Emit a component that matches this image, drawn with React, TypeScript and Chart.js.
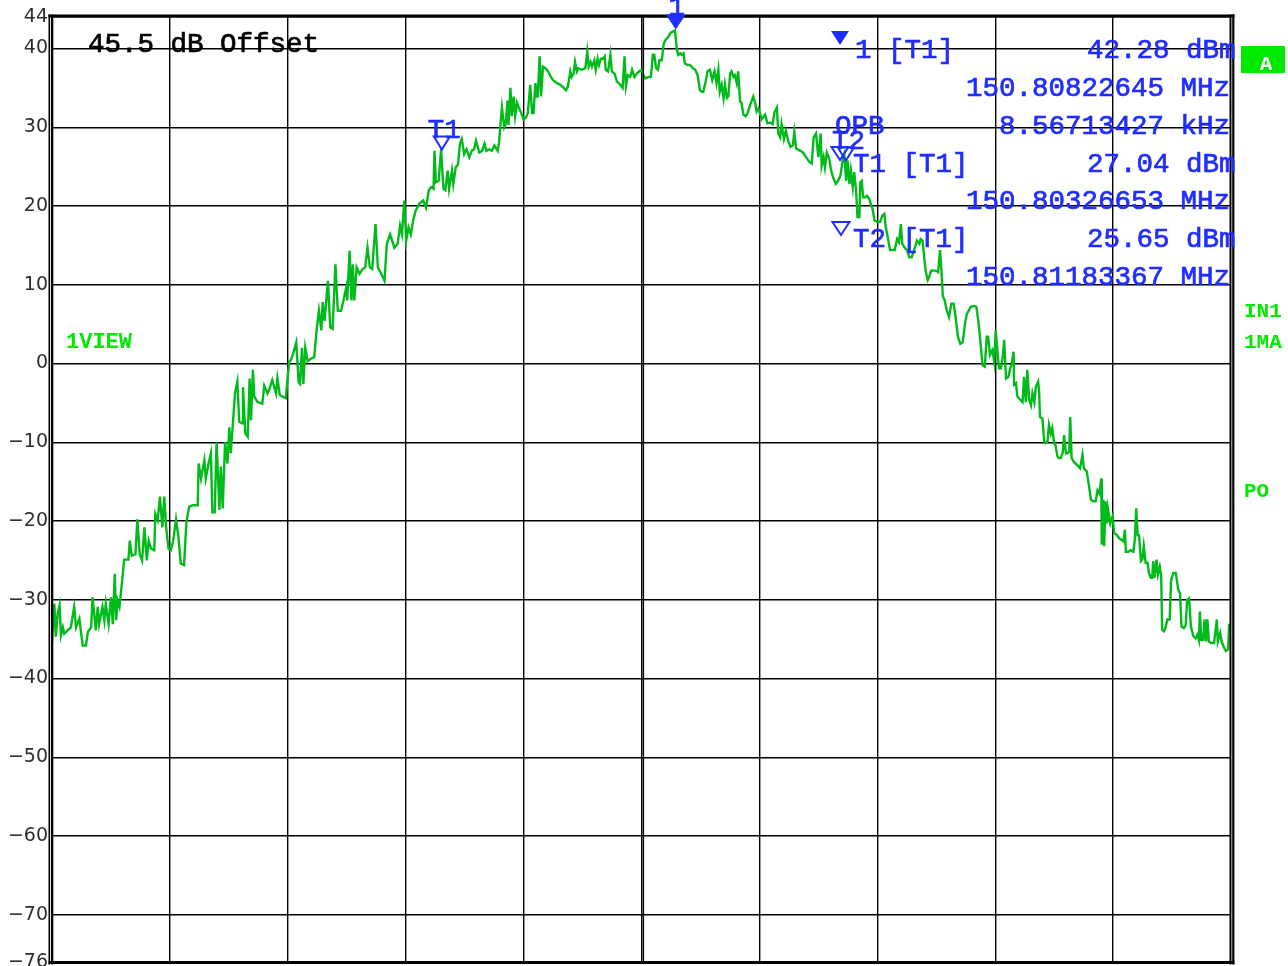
import React, { useEffect, useRef } from "react";
import { Chart, registerables } from "chart.js";

Chart.register(...registerables);

// ---------- data ----------
// Frequency axis: offset from centre 150.8075 MHz, in kHz (span 25 kHz)
const xStartKHz = -12.5;
const xStopKHz = 12.5;
const xGridKHz = [-12.5, -10, -7.5, -5, -2.5, 0, 2.5, 5, 7.5, 10, 12.5];
const yTicks = [44, 40, 30, 20, 10, 0, -10, -20, -30, -40, -50, -60, -70, -76];
const yMin = -76;
const yMax = 44;

const traceLowerSkirt: [number, number][] = [
  [-12.5, -35.4], [-12.45, -30.5], [-12.42, -34.7], [-12.38, -31.8], [-12.34, -30.7], [-12.31, -34.5], [-12.27, -33.5], [-12.24, -34.3],
  [-12.17, -33.9], [-12.1, -33.5], [-12.03, -30.9], [-11.99, -33.5], [-11.92, -32.4], [-11.85, -35.8], [-11.78, -35.8], [-11.74, -34.1],
  [-11.67, -33.5], [-11.64, -29.7], [-11.57, -33.9], [-11.53, -30.9], [-11.5, -33.1], [-11.43, -30.9], [-11.39, -32.6], [-11.36, -30.5],
  [-11.3, -33.1], [-11.25, -29.7], [-11.21, -33.1], [-11.17, -26.7], [-11.14, -32.6], [-11.11, -30.1], [-11.07, -30.9], [-11.02, -28.0],
  [-10.97, -24.9], [-10.88, -24.9], [-10.85, -22.5], [-10.81, -24.4], [-10.73, -24.2], [-10.69, -19.8], [-10.64, -24.2], [-10.59, -25.0],
  [-10.54, -20.8], [-10.49, -25.0], [-10.45, -22.5], [-10.4, -23.5], [-10.33, -23.7], [-10.31, -19.1], [-10.26, -19.9], [-10.21, -16.9],
  [-10.16, -20.8], [-10.12, -16.9], [-10.08, -20.8], [-10.03, -23.5], [-9.98, -23.7], [-9.93, -22.5], [-9.87, -19.8], [-9.82, -22.0],
  [-9.77, -25.4], [-9.7, -25.6], [-9.65, -20.1], [-9.59, -18.2], [-9.52, -18.0], [-9.41, -18.0], [-9.39, -12.7], [-9.34, -14.6],
  [-9.27, -12.3], [-9.24, -14.6], [-9.18, -12.7], [-9.13, -11.4], [-9.1, -18.9], [-9.05, -18.9], [-9.01, -10.0], [-8.95, -18.6],
  [-8.92, -13.1], [-8.88, -18.4], [-8.83, -10.0], [-8.78, -12.7], [-8.74, -8.1], [-8.71, -11.4], [-8.67, -8.1], [-8.62, -3.8],
  [-8.57, -2.3], [-8.53, -7.4], [-8.47, -7.6], [-8.45, -3.0], [-8.4, -8.9], [-8.35, -9.3], [-8.31, -1.9], [-8.28, -7.2],
  [-8.24, -0.8], [-8.21, -4.2], [-8.14, -4.9], [-8.04, -5.1], [-8.0, -2.8], [-7.93, -3.8], [-7.9, -3.4], [-7.83, -2.1],
  [-7.75, -3.8], [-7.72, -1.9], [-7.67, -4.0], [-7.61, -4.2], [-7.54, -4.4], [-7.51, -2.1], [-7.47, 0.2], [-7.44, 0.4],
];

const traceLowerShoulder: [number, number][] = [
  [-7.39, 1.2], [-7.32, 2.7], [-7.27, -2.4], [-7.24, -2.6], [-7.2, 2.0], [-7.17, -2.6], [-7.13, 2.0], [-7.08, 0.3],
  [-7.01, 0.6], [-6.94, 0.8], [-6.89, 4.2], [-6.84, 6.7], [-6.79, 4.2], [-6.76, 7.8], [-6.72, 5.4], [-6.65, 10.5],
  [-6.6, 4.6], [-6.55, 4.4], [-6.49, 12.6], [-6.44, 6.7], [-6.37, 6.7], [-6.32, 8.0], [-6.26, 9.7], [-6.24, 8.0],
  [-6.19, 14.3], [-6.15, 8.0], [-6.12, 12.6], [-6.09, 8.0], [-6.04, 12.2], [-5.98, 11.4], [-5.91, 12.0], [-5.86, 12.2],
  [-5.81, 14.7], [-5.76, 12.2], [-5.71, 12.0], [-5.64, 17.7], [-5.59, 12.2], [-5.52, 11.4], [-5.45, 10.5], [-5.4, 15.2],
  [-5.33, 16.4], [-5.24, 14.7], [-5.17, 15.2], [-5.12, 17.5], [-5.08, 16.4], [-5.03, 20.7], [-4.99, 15.6], [-4.94, 17.3],
  [-4.89, 16.4], [-4.84, 18.2], [-4.79, 19.4], [-4.71, 20.3], [-4.63, 20.7], [-4.57, 19.8], [-4.51, 22.0], [-4.46, 22.4],
  [-4.41, 22.2], [-4.39, 27.0], [-4.36, 23.0], [-4.3, 23.2], [-4.25, 27.2], [-4.2, 22.2], [-4.16, 22.0], [-4.11, 24.5],
  [-4.08, 22.2], [-4.02, 24.5], [-3.99, 22.8], [-3.94, 24.9], [-3.89, 25.3], [-3.85, 27.9], [-3.81, 28.5], [-3.76, 26.6],
  [-3.71, 27.2], [-3.65, 26.2], [-3.6, 27.0], [-3.55, 27.2], [-3.51, 28.3], [-3.44, 26.8], [-3.38, 27.0], [-3.33, 27.9],
  [-3.29, 27.0], [-3.23, 27.2], [-3.17, 27.0], [-3.12, 27.7], [-3.05, 27.0], [-3.02, 28.1], [-2.96, 32.5], [-2.91, 30.0],
  [-2.88, 30.4], [-2.84, 33.4],
];

const traceTop: [number, number][] = [
  [-2.82, 30.3], [-2.78, 35.0], [-2.75, 31.4], [-2.71, 33.9], [-2.68, 31.4], [-2.64, 33.1], [-2.61, 32.6], [-2.55, 31.8],
  [-2.5, 31.0], [-2.45, 31.2], [-2.41, 31.8], [-2.36, 35.4], [-2.32, 31.8], [-2.29, 31.8], [-2.25, 35.6], [-2.22, 33.9],
  [-2.2, 33.9], [-2.16, 39.0], [-2.13, 33.9], [-2.09, 37.7], [-2.04, 37.5], [-1.98, 37.1], [-1.94, 36.6], [-1.88, 36.0],
  [-1.79, 35.6], [-1.72, 35.4], [-1.65, 35.0], [-1.6, 34.7], [-1.56, 35.2], [-1.51, 37.1], [-1.48, 36.4], [-1.44, 36.8],
  [-1.41, 38.3], [-1.37, 37.1], [-1.34, 37.5], [-1.26, 37.3], [-1.19, 37.5], [-1.15, 39.6], [-1.12, 37.7], [-1.08, 38.3],
  [-1.05, 37.7], [-1.0, 38.5], [-0.97, 37.3], [-0.93, 38.7], [-0.9, 37.9], [-0.86, 38.7], [-0.82, 38.7], [-0.78, 39.0],
  [-0.76, 37.3], [-0.71, 37.1], [-0.66, 39.2], [-0.63, 37.1], [-0.57, 36.8], [-0.52, 35.8], [-0.45, 35.4], [-0.4, 35.0],
  [-0.36, 39.0], [-0.33, 35.2], [-0.29, 36.6], [-0.24, 36.4], [-0.2, 37.3], [-0.15, 36.4], [-0.1, 36.8], [-0.05, 37.1],
  [0.01, 37.3], [0.04, 36.6], [0.08, 36.2], [0.15, 36.4], [0.2, 36.4], [0.24, 39.2], [0.27, 39.2], [0.31, 37.5],
  [0.35, 37.3], [0.38, 38.5], [0.43, 38.5], [0.47, 40.6], [0.51, 41.1], [0.57, 41.5], [0.62, 42.0], [0.71, 42.3],
  [0.75, 39.8], [0.78, 39.2], [0.82, 39.4], [0.85, 39.2], [0.89, 39.4], [0.92, 38.1], [0.98, 37.9], [1.03, 37.9],
  [1.09, 37.5], [1.14, 37.3], [1.19, 36.6], [1.24, 34.7], [1.28, 34.5], [1.31, 34.5], [1.36, 35.8], [1.4, 37.1],
  [1.45, 37.3], [1.5, 36.0], [1.55, 37.1], [1.59, 35.6], [1.63, 37.3], [1.66, 34.5], [1.7, 35.4], [1.74, 33.7],
  [1.77, 35.4], [1.81, 33.7], [1.84, 33.9], [1.88, 36.8], [1.91, 37.1], [1.95, 36.4], [1.98, 36.6], [2.02, 35.6],
  [2.05, 37.1], [2.09, 33.3], [2.12, 33.1], [2.16, 31.6], [2.21, 31.4], [2.25, 31.8], [2.28, 32.4], [2.32, 33.1],
  [2.37, 33.9], [2.41, 33.1], [2.44, 32.0], [2.48, 32.4], [2.55, 31.0], [2.62, 31.6], [2.67, 30.5],
];

const traceUpperShoulder: [number, number][] = [
  [2.73, 30.6], [2.78, 30.4], [2.82, 31.9], [2.87, 32.5], [2.9, 29.2], [2.94, 28.7], [2.97, 30.4], [3.02, 28.5],
  [3.06, 29.6], [3.11, 28.3], [3.16, 27.5], [3.21, 27.7], [3.24, 29.4], [3.28, 27.3], [3.37, 27.0], [3.42, 26.8],
  [3.49, 26.2], [3.56, 25.6], [3.61, 25.4], [3.65, 28.7], [3.7, 29.2], [3.75, 26.2], [3.8, 29.2], [3.82, 25.1],
  [3.86, 26.2], [3.89, 24.9], [3.93, 26.8], [3.98, 26.0], [4.02, 24.5], [4.07, 23.5], [4.12, 22.8], [4.17, 23.2],
  [4.22, 23.9], [4.27, 26.0], [4.3, 26.6], [4.34, 23.2], [4.37, 25.8], [4.41, 22.8], [4.44, 24.5], [4.48, 22.4],
  [4.51, 24.3], [4.55, 22.0], [4.58, 18.6], [4.62, 18.6], [4.64, 23.0], [4.67, 23.2], [4.7, 21.1], [4.74, 21.1],
  [4.78, 21.3], [4.83, 20.9], [4.87, 20.1], [4.9, 19.6], [4.94, 18.2], [4.99, 18.0], [5.06, 18.0], [5.11, 18.8],
  [5.15, 19.0], [5.18, 17.3], [5.22, 16.1], [5.27, 14.4], [5.32, 14.4], [5.37, 14.4], [5.42, 15.8], [5.46, 15.4],
  [5.5, 17.7], [5.53, 15.2], [5.57, 14.8], [5.63, 14.4], [5.68, 13.5], [5.73, 13.5], [5.78, 14.4], [5.84, 15.6],
  [5.89, 15.2], [5.92, 15.8], [5.96, 15.6], [6.0, 13.1], [6.03, 11.6], [6.07, 10.6], [6.1, 11.0], [6.14, 11.8],
  [6.19, 11.8], [6.24, 11.8], [6.29, 11.6], [6.33, 14.4], [6.36, 11.8], [6.39, 8.5], [6.43, 8.0], [6.47, 6.8],
  [6.52, 5.9], [6.57, 7.6], [6.62, 7.6], [6.66, 5.9], [6.71, 3.4], [6.76, 2.5], [6.81, 2.7], [6.86, 5.1],
  [6.9, 6.3], [6.98, 7.2], [7.05, 7.3], [7.1, 7.2], [7.14, 5.5], [7.18, 3.2], [7.23, -0.2], [7.28, -0.4],
  [7.32, 3.4], [7.35, 3.4], [7.39, 1.1], [7.44, 1.7], [7.48, 0.2], [7.51, 4.2],
];

const traceUpperSkirt: [number, number][] = [
  [7.58, -0.6], [7.62, -0.6], [7.66, 0.8], [7.69, 3.0], [7.73, -1.9], [7.78, -1.7], [7.82, -0.6], [7.85, 0.0],
  [7.89, 1.5], [7.9, -2.7], [7.94, -2.5], [7.97, -4.2], [8.03, -4.6], [8.08, -4.9], [8.11, -1.7], [8.15, -4.9],
  [8.18, -0.8], [8.22, -4.6], [8.26, -5.3], [8.29, -3.8], [8.33, -4.9], [8.36, -3.0], [8.41, -2.3], [8.43, -3.4],
  [8.45, -6.8], [8.5, -7.0], [8.54, -9.9], [8.57, -10.1], [8.61, -9.9], [8.64, -7.8], [8.68, -8.9], [8.71, -8.2],
  [8.75, -10.1], [8.78, -10.4], [8.82, -11.8], [8.85, -12.0], [8.89, -12.0], [8.93, -11.4], [8.96, -9.1], [9.0, -11.4],
  [9.03, -11.4], [9.07, -11.2], [9.09, -6.8], [9.12, -12.0], [9.17, -12.5], [9.24, -12.9], [9.3, -13.3], [9.35, -11.6],
  [9.38, -13.3], [9.44, -13.7], [9.49, -15.6], [9.53, -17.3], [9.58, -17.5], [9.63, -17.5], [9.67, -16.1], [9.71, -16.5],
  [9.75, -14.6], [9.76, -23.0], [9.79, -17.3], [9.81, -23.2], [9.84, -17.5], [9.87, -20.3], [9.89, -18.4], [9.94, -20.3],
  [9.99, -19.4], [10.02, -21.5], [10.08, -21.8], [10.13, -22.2], [10.18, -22.4], [10.22, -22.6], [10.25, -21.1], [10.27, -23.9],
  [10.32, -23.9], [10.37, -23.7], [10.43, -23.9], [10.46, -22.4], [10.49, -18.4], [10.52, -21.8], [10.55, -21.8], [10.59, -25.1],
  [10.62, -24.9], [10.65, -23.2], [10.69, -25.3], [10.73, -25.3], [10.76, -26.6], [10.8, -27.2], [10.83, -27.2], [10.85, -25.1],
  [10.88, -27.2], [10.92, -24.9], [10.95, -26.8], [10.99, -25.8], [11.02, -27.0], [11.04, -33.8], [11.08, -34.0], [11.11, -33.6],
  [11.15, -32.5], [11.2, -32.5], [11.23, -27.5], [11.28, -26.6], [11.33, -26.6], [11.38, -28.7], [11.42, -29.2], [11.45, -33.4],
  [11.5, -33.6], [11.54, -33.2], [11.57, -30.0], [11.61, -29.8], [11.65, -33.4], [11.7, -34.6], [11.75, -34.9], [11.79, -34.4],
  [11.82, -35.1], [11.84, -31.5], [11.87, -35.1], [11.91, -35.1], [11.94, -32.5], [11.97, -35.3], [12.0, -32.5], [12.03, -35.3],
  [12.08, -35.5], [12.14, -35.5], [12.2, -32.5], [12.22, -35.3], [12.27, -34.2], [12.3, -35.3], [12.34, -35.9], [12.39, -36.5],
  [12.44, -36.3], [12.46, -33.2], [12.5, -33.2],
];

// markers on the trace: name, kHz offset, dBm
const markerNames = ["1", "T1", "T2"];
const markerFreqKHz = [0.72645, -4.23347, 4.33367];
const markerLevels = [42.28, 27.04, 25.65];

// marker readout texts
const offsetText = "45.5 dB Offset";
const readoutLeft = ["1 [T1]", "OPB", "T1 [T1]", "T2 [T1]"];
const readoutLevels = ["42.28 dBm", "27.04 dBm", "25.65 dBm"];
const readoutFreqs = ["150.80822645 MHz", "150.80326653 MHz", "150.81183367 MHz"];
const readoutOpb = "8.56713427 kHz";
const sideLabels = ["IN1", "1MA", "PO"];
const viewLabel = "1VIEW";
const traceLabel = "A";

// ---------- styles ----------
const TRACE = "#00bb1a";
const BLUE = "#1f2dff";
const LABEL_GREEN = "#00ea00";
const MONO = '"Liberation Mono", "DejaVu Sans Mono", monospace';

function tri(ctx: CanvasRenderingContext2D, cx: number, tipY: number, w: number, h: number, filled: boolean) {
  ctx.beginPath();
  ctx.moveTo(cx - w / 2, tipY - h);
  ctx.lineTo(cx + w / 2, tipY - h);
  ctx.lineTo(cx, tipY);
  ctx.closePath();
  if (filled) {
    ctx.fillStyle = BLUE;
    ctx.fill();
  } else {
    ctx.strokeStyle = BLUE;
    ctx.lineWidth = 2;
    ctx.stroke();
  }
}

function boldText(ctx: CanvasRenderingContext2D, t: string, x: number, y: number, color: string) {
  ctx.fillStyle = color;
  ctx.strokeStyle = color;
  ctx.lineWidth = 0.7;
  ctx.fillText(t, x, y);
  ctx.strokeText(t, x, y);
}

const overlay = {
  id: "overlay",
  afterDraw(chart: any) {
    const ctx: CanvasRenderingContext2D = chart.ctx;
    const xs = chart.scales.x;
    const ys = chart.scales.y;
    const a = chart.chartArea;
    ctx.save();

    // frame
    ctx.fillStyle = "#000";
    ctx.fillRect(a.left - 3.5, a.top - 2.5, a.right - a.left + 7, 3);
    ctx.fillRect(a.left - 3.5, a.bottom - 1, a.right - a.left + 7, 3);
    ctx.fillRect(a.left - 3.5, a.top - 2.5, 1.6, a.bottom - a.top + 5);
    ctx.fillRect(a.left - 0.5, a.top - 2.5, 1.8, a.bottom - a.top + 5);
    ctx.fillRect(a.right - 1.5, a.top - 2.5, 1.6, a.bottom - a.top + 5);
    ctx.fillRect(a.right + 1.2, a.top - 2.5, 2.2, a.bottom - a.top + 5);
    const cx0 = xs.getPixelForValue(0);
    ctx.fillRect(cx0 + 1.2, a.top, 1.4, a.bottom - a.top);

    // offset text
    ctx.textBaseline = "alphabetic";
    ctx.textAlign = "left";
    ctx.font = `27.5px ${MONO}`;
    boldText(ctx, offsetText, 88, 52, "#000");

    // trace markers
    markerNames.forEach((name, i) => {
      const px = xs.getPixelForValue(markerFreqKHz[i]);
      const py = ys.getPixelForValue(markerLevels[i]);
      const filled = i === 0;
      tri(ctx, px, py - 1, filled ? 20 : 16, filled ? 15 : 13, filled);
      ctx.font = `27.5px ${MONO}`;
      if (filled) {
        ctx.textAlign = "center";
        boldText(ctx, name, px + 1, py - 16, BLUE);
      } else {
        ctx.textAlign = "left";
        boldText(ctx, name, px - 14, py - 13, BLUE);
      }
    });

    // readout block
    ctx.textAlign = "left";
    ctx.font = `27.5px ${MONO}`;
    const rowY = [58, 96, 134, 172, 209, 247, 285];
    tri(ctx, 840, 45, 18, 14, true);
    tri(ctx, 840, 160, 17, 13, false);
    tri(ctx, 841, 235, 17, 13, false);
    boldText(ctx, readoutLeft[0], 855, rowY[0], BLUE);
    boldText(ctx, readoutLeft[1], 835, rowY[2], BLUE);
    boldText(ctx, readoutLeft[2], 853, rowY[3], BLUE);
    boldText(ctx, readoutLeft[3], 853, rowY[5], BLUE);
    boldText(ctx, readoutLevels[0], 1087, rowY[0], BLUE);
    boldText(ctx, readoutLevels[1], 1087, rowY[3], BLUE);
    boldText(ctx, readoutLevels[2], 1087, rowY[5], BLUE);
    boldText(ctx, readoutFreqs[0], 966, rowY[1], BLUE);
    boldText(ctx, readoutOpb, 999, rowY[2], BLUE);
    boldText(ctx, readoutFreqs[1], 966, rowY[4], BLUE);
    boldText(ctx, readoutFreqs[2], 966, rowY[6], BLUE);

    // green labels
    ctx.fillStyle = LABEL_GREEN;
    ctx.fillRect(1241, 46, 44, 27);
    ctx.fillStyle = "#fff";
    ctx.font = `bold 21px ${MONO}`;
    ctx.textAlign = "center";
    ctx.fillText(traceLabel, 1266, 70);
    ctx.textAlign = "left";
    ctx.fillStyle = LABEL_GREEN;
    ctx.fillText(sideLabels[0], 1244, 317);
    ctx.fillText(sideLabels[1], 1244, 348);
    ctx.fillText(sideLabels[2], 1244, 497);
    ctx.save();
    ctx.beginPath();
    ctx.rect(60, 320, 76, 40);
    ctx.clip();
    ctx.font = `bold 22px ${MONO}`;
    ctx.fillText(viewLabel, 66, 348);
    ctx.restore();

    ctx.restore();
  },
};

export default function App() {
  const ref = useRef<HTMLCanvasElement | null>(null);

  useEffect(() => {
    if (!ref.current) return;
    const points = [
      ...traceLowerSkirt,
      ...traceLowerShoulder,
      ...traceTop,
      ...traceUpperShoulder,
      ...traceUpperSkirt,
    ].map(([x, y]) => ({ x, y }));

    const gridOpts = { color: "#000", lineWidth: 1.4, drawTicks: false };

    const chart = new Chart(ref.current, {
      type: "line",
      data: {
        datasets: [
          {
            data: points,
            borderColor: TRACE,
            borderWidth: 2.4,
            pointRadius: 0,
            tension: 0,
            fill: false,
          },
        ],
      },
      options: {
        animation: false,
        responsive: false,
        events: [],
        layout: { padding: { left: 0, top: 17, right: 57, bottom: 4 } },
        plugins: { legend: { display: false }, tooltip: { enabled: false } },
        scales: {
          x: {
            type: "linear",
            min: xStartKHz,
            max: xStopKHz,
            afterBuildTicks: (s: any) => {
              s.ticks = xGridKHz.map((v) => ({ value: v }));
            },
            ticks: { display: false },
            grid: gridOpts,
            border: { display: false },
            afterFit: (s: any) => {
              s.height = 0;
              s.paddingLeft = 0;
              s.paddingRight = 0;
            },
          },
          y: {
            type: "linear",
            min: yMin,
            max: yMax,
            afterBuildTicks: (s: any) => {
              s.ticks = yTicks.map((v) => ({ value: v }));
            },
            ticks: {
              autoSkip: false,
              padding: 4,
              color: "#2e2e2e",
              font: { family: "DejaVu Sans", size: 19 },
              callback: (v: any) => String(v).replace("-", "\u2212"),
            },
            grid: gridOpts,
            border: { display: false },
            afterFit: (s: any) => {
              s.width = 52;
              s.paddingTop = 0;
              s.paddingBottom = 0;
            },
          },
        },
      },
      plugins: [overlay],
    } as any);

    return () => chart.destroy();
  }, []);

  return (
    <div style={{ position: "absolute", left: 0, top: 0, width: 1288, height: 966, background: "#fff" }}>
      <canvas ref={ref} width={1288} height={966} style={{ display: "block" }} />
    </div>
  );
}
